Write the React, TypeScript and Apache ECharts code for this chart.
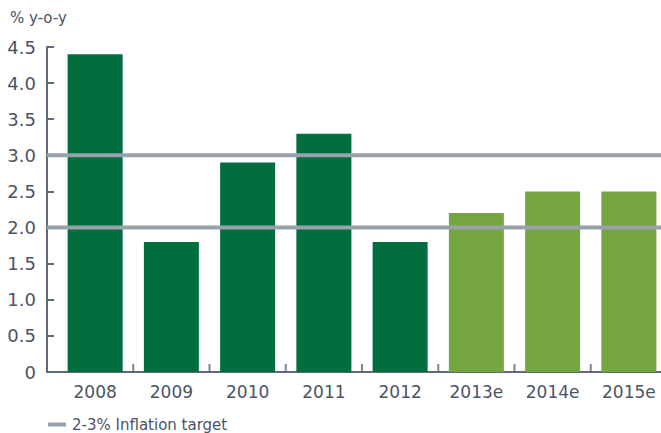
import React, { useEffect, useRef } from "react";
import * as echarts from "echarts";

const categories = ["2008", "2009", "2010", "2011", "2012", "2013e", "2014e", "2015e"];
const values = [4.4, 1.8, 2.9, 3.3, 1.8, 2.2, 2.5, 2.5];
const targetLow = 2.0;
const targetHigh = 3.0;
const yTickLabels = ["0", "0.5", "1.0", "1.5", "2.0", "2.5", "3.0", "3.5", "4.0", "4.5"];
// boundaries between neighbouring categories (where the x-axis ticks sit)
const boundaries = categories.slice(1).map((_, i) => i + 1);

const TEXT = "#4a5466";
const AXIS = "#5e687a";
const DARK = "#006e3f";
const LIGHT = "#76a640";
const GRAY = "#99a1aa";
const FONT = "'DejaVu Sans', sans-serif";

export default function App() {
  const ref = useRef<HTMLDivElement>(null);
  useEffect(() => {
    if (!ref.current) return;
    const chart = echarts.init(ref.current, undefined, { renderer: "svg" });
    const seriesName = "2-3% Inflation target";
    chart.setOption({
      animation: false,
      title: {
        text: "% y-o-y",
        left: 5,
        top: 5,
        textStyle: { color: TEXT, fontFamily: FONT, fontSize: 15, fontWeight: "normal" },
      },
      legend: {
        left: 48,
        top: 417,
        padding: 0,
        icon: "rect",
        itemWidth: 18,
        itemHeight: 4,
        data: [seriesName],
        textStyle: { color: TEXT, fontFamily: FONT, fontSize: 15, padding: [0, 0, 0, 1] },
      },
      grid: [
        { left: 57, right: 0, top: 47, bottom: 61 },
        { left: 47, right: 6, top: 47, bottom: 61 },
        { left: 57, right: 0, top: 47, bottom: 61 },
      ],
      xAxis: [
        {
          type: "category",
          gridIndex: 0,
          data: categories,
          axisLine: { show: false },
          axisTick: { show: false },
          axisLabel: {
            color: TEXT,
            fontFamily: FONT,
            fontSize: 17,
            margin: 11,
          },
        },
        {
          type: "value",
          gridIndex: 1,
          min: 0,
          max: 1,
          axisLine: { show: true, lineStyle: { color: AXIS, width: 2 } },
          axisTick: { show: false },
          axisLabel: { show: false },
          splitLine: { show: false },
        },
        {
          type: "value",
          gridIndex: 2,
          min: 0,
          max: categories.length,
          show: false,
          splitLine: { show: false },
        },
      ],
      yAxis: [
        {
          type: "value",
          gridIndex: 0,
          min: 0,
          max: 4.5,
          interval: 0.5,
          show: false,
          splitLine: { show: false },
        },
        {
          type: "value",
          gridIndex: 1,
          min: 0,
          max: 4.5,
          interval: 0.5,
          axisLine: { show: true, lineStyle: { color: AXIS, width: 2 } },
          axisTick: { show: true, inside: true, length: 7, lineStyle: { color: AXIS, width: 2 } },
          splitLine: { show: false },
          axisLabel: {
            color: TEXT,
            fontFamily: FONT,
            fontSize: 18,
            margin: 11,
            formatter: (v: number) => yTickLabels[Math.round(v * 2)] ?? String(v),
          },
        },
        {
          type: "value",
          gridIndex: 2,
          min: 0,
          max: 4.5,
          show: false,
          splitLine: { show: false },
        },
      ],
      series: [
        {
          type: "bar",
          xAxisIndex: 0,
          yAxisIndex: 0,
          barWidth: 55,
          data: values.map((v, i) => ({
            value: v,
            itemStyle: { color: categories[i].endsWith("e") ? LIGHT : DARK },
          })),
        },
        {
          type: "scatter",
          xAxisIndex: 2,
          yAxisIndex: 2,
          z: 6,
          symbol: "rect",
          symbolSize: [2, 8],
          symbolOffset: [0, -4],
          itemStyle: { color: AXIS },
          silent: true,
          data: boundaries.map((b) => [b, 0]),
        },
        {
          type: "line",
          name: seriesName,
          xAxisIndex: 1,
          yAxisIndex: 1,
          z: 5,
          symbol: "none",
          color: GRAY,
          lineStyle: { color: GRAY, width: 4 },
          data: [
            [0, targetLow],
            [1, targetLow],
          ],
        },
        {
          type: "line",
          name: seriesName,
          xAxisIndex: 1,
          yAxisIndex: 1,
          z: 5,
          symbol: "none",
          color: GRAY,
          lineStyle: { color: GRAY, width: 4 },
          data: [
            [0, targetHigh],
            [1, targetHigh],
          ],
        },
      ],
    });
    return () => chart.dispose();
  }, []);
  return (
    <div style={{ position: "fixed", left: 0, top: 0, width: 661, height: 433, overflow: "hidden", background: "#fff" }}>
      <div ref={ref} style={{ width: 667, height: 433 }} />
    </div>
  );
}
